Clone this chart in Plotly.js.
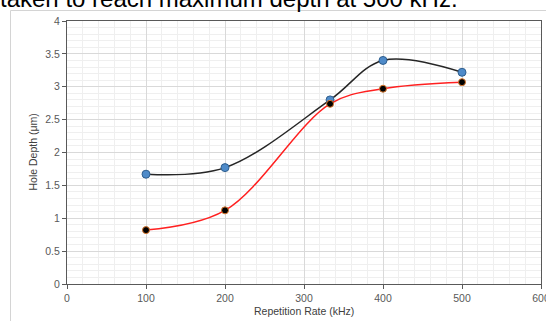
<!DOCTYPE html>
<html><head><meta charset="utf-8">
<script src="https://cdn.plot.ly/plotly-3.0.1.min.js"></script>
<style>html,body{margin:0;padding:0;background:#fff;}#chart{width:546px;height:321px;}</style>
</head><body><div id="chart"></div>
<script>
const repRate = [100, 200, 333, 400, 500];
const depthBlue = [1.67, 1.77, 2.80, 3.40, 3.22];
const depthRed = [0.82, 1.12, 2.74, 2.97, 3.07];
const xTicks = [0, 100, 200, 300, 400, 500, 600];
const yTicks = [0, 0.5, 1, 1.5, 2, 2.5, 3, 3.5, 4];
const yTickLabels = ['0', '0.5', '1', '1.5', '2', '2.5', '3', '3.5', '4'];
const captionText = 'taken to reach maximum depth at 500 kHz.';
const xTitle = 'Repetition Rate (kHz)';
const yTitle = 'Hole Depth (μm)';

const W = 546, H = 321;
const px = v => v / W;
const py = v => 1 - v / H;

const traces = [
  {x: repRate, y: depthBlue, type: 'scatter', mode: 'lines+markers',
   line: {shape: 'spline', smoothing: 1, color: '#262626', width: 1.5},
   marker: {size: 8, color: '#4f8bc9', line: {color: '#2f5f8f', width: 1}}},
  {x: repRate, y: depthRed, type: 'scatter', mode: 'lines+markers',
   line: {shape: 'spline', smoothing: 1, color: '#ff2020', width: 1.5},
   marker: {size: 7, color: '#000000', line: {color: '#d9762b', width: 1}}}
];

const tickFont = {family: 'Liberation Sans, Arial, sans-serif', size: 10.5, color: '#595959'};
const titleFont = {family: 'Liberation Sans, Arial, sans-serif', size: 10.5, color: '#404040'};
const layout = {
  width: W, height: H,
  margin: {l: 0, r: 0, t: 0, b: 0},
  showlegend: false,
  paper_bgcolor: '#ffffff', plot_bgcolor: '#ffffff',
  xaxis: {domain: [px(67), px(541)], range: [0, 600], tickvals: xTicks, ticktext: xTicks.map(String),
    showgrid: true, gridcolor: '#d9d9d9', gridwidth: 1,
    minor: {dtick: 20, showgrid: true, gridcolor: '#efefef', gridwidth: 1},
    showline: true, linecolor: '#595959', linewidth: 1, mirror: true,
    ticks: 'outside', ticklen: 4, tickcolor: '#595959', zeroline: false,
    tickfont: tickFont, ticklabeloverflow: 'allow', automargin: false},
  yaxis: {domain: [py(284), py(21)], range: [0, 4], tickvals: yTicks, ticktext: yTickLabels,
    showgrid: true, gridcolor: '#d9d9d9', gridwidth: 1,
    minor: {dtick: 0.1, showgrid: true, gridcolor: '#efefef', gridwidth: 1},
    showline: true, linecolor: '#595959', linewidth: 1, mirror: true,
    ticks: 'outside', ticklen: 4, tickcolor: '#595959', zeroline: false,
    tickfont: tickFont, ticklabeloverflow: 'allow', automargin: false},
  shapes: [
    {type: 'line', xref: 'paper', yref: 'paper', x0: px(10.5), x1: 1, y0: py(10.5), y1: py(10.5), line: {color: '#d4d4d4', width: 1}},
    {type: 'line', xref: 'paper', yref: 'paper', x0: px(10.5), x1: px(10.5), y0: py(10.5), y1: 0, line: {color: '#d4d4d4', width: 1}}
  ],
  annotations: [
    {text: captionText, xref: 'paper', yref: 'paper', x: px(-2), y: py(-1.5),
     xanchor: 'left', yanchor: 'middle', showarrow: false,
     font: {family: 'Liberation Sans, Arial, sans-serif', size: 24, color: '#000000'}},
    {text: yTitle, xref: 'paper', yref: 'paper', x: px(32), y: py(152.5),
     xanchor: 'center', yanchor: 'middle', textangle: -90, showarrow: false,
     font: titleFont},
    {text: xTitle, xref: 'paper', yref: 'paper', x: px(304), y: py(311),
     xanchor: 'center', yanchor: 'middle', showarrow: false,
     font: titleFont}
  ]
};
Plotly.newPlot('chart', traces, layout, {displayModeBar: false, staticPlot: true});
</script></body></html>
